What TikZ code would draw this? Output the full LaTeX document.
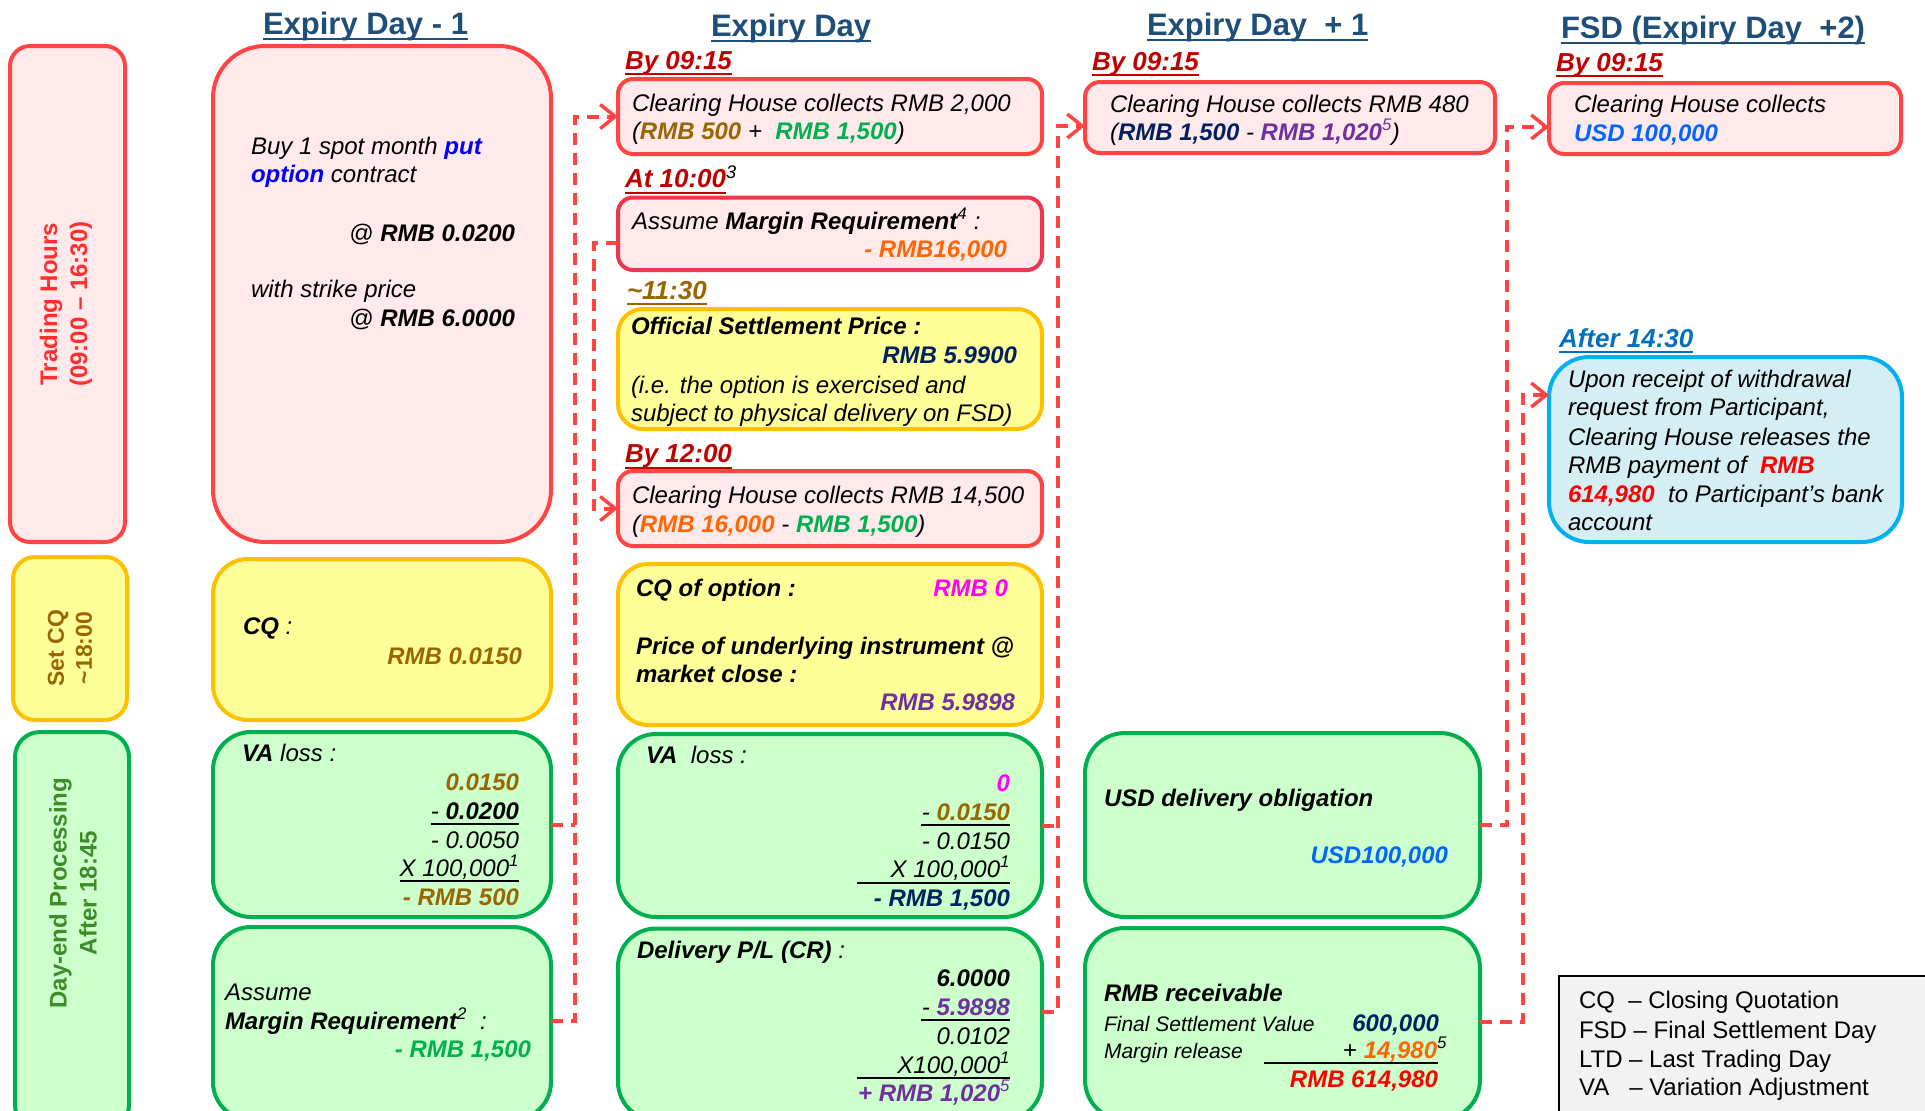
\documentclass[tikz,border=0pt]{standalone}
\usepackage{fontspec}
\setmainfont{Liberation Sans}
\usetikzlibrary{arrows.meta,fit}
\definecolor{bred}{RGB}{255,68,68}
\definecolor{pbord}{RGB}{235,56,80}
\definecolor{pinkf}{RGB}{255,233,235}
\definecolor{yelf}{RGB}{255,255,153}
\definecolor{yelb}{RGB}{255,192,0}
\definecolor{grnf}{RGB}{204,255,204}
\definecolor{grnb}{RGB}{0,176,80}
\definecolor{ttl}{RGB}{31,78,121}
\definecolor{dred}{RGB}{192,0,0}
\definecolor{brn}{RGB}{153,102,0}
\definecolor{navy}{RGB}{0,32,96}
\definecolor{purp}{RGB}{112,48,160}
\definecolor{orng}{RGB}{255,102,0}
\definecolor{mag}{RGB}{255,0,255}
\definecolor{usdb}{RGB}{0,102,255}
\definecolor{ablue}{RGB}{0,112,192}
\definecolor{cyanf}{RGB}{212,238,243}
\definecolor{cyanb}{RGB}{0,176,240}
\definecolor{dgrn}{RGB}{60,140,40}
\definecolor{legf}{RGB}{242,242,242}
\definecolor{pblue}{RGB}{0,0,255}
\definecolor{lred}{RGB}{255,45,45}
\definecolor{rred}{RGB}{255,0,0}
\newcommand\ulnode[2]{\draw[#2, line width=2pt] ([yshift=-5pt]#1.base west) -- ([yshift=-5pt]#1.base east);}
\newcommand\supn[1]{{\mdseries\textsuperscript{#1}}}
\begin{document}
\begin{tikzpicture}[x=1pt,y=-1pt,
  box/.style={inner sep=0pt, outer sep=0pt, line width=4pt},
  redbox/.style={box, draw=bred, fill=pinkf},
  yelbox/.style={box, draw=yelb, fill=yelf},
  grnbox/.style={box, draw=grnb, fill=grnf},
  t/.style={inner sep=0pt, outer sep=0pt, font=\fontsize{24}{28}\selectfont\itshape},
  ts/.style={inner sep=0pt, outer sep=0pt, font=\fontsize{21}{25}\selectfont\itshape},
  tn/.style={inner sep=0pt, outer sep=0pt, font=\fontsize{24}{28}\selectfont, anchor=base west},
  W/.style={anchor=base west},
  E/.style={anchor=base east},
  hd/.style={inner sep=0pt, outer sep=0pt, font=\fontsize{31}{36}\selectfont\bfseries, text=ttl, anchor=base west},
  tm/.style={inner sep=0pt, outer sep=0pt, font=\fontsize{26}{30}\selectfont\bfseries\itshape, anchor=base west},
  rowlab/.style={rotate=90, align=center, inner sep=0pt, font=\fontsize{24}{30}\selectfont\bfseries},
  conn/.style={draw=bred, line width=4pt, dash pattern=on 12pt off 8pt},
  arr/.style={-{Straight Barb[length=15pt,width=24pt,line width=3.5pt]}},
  ul/.style={draw=black, line width=2pt}
]
\useasboundingbox (0,0) rectangle (1925,1111);

% ---------- titles ----------
\node[hd] (h1) at (263,34) {Expiry Day - 1};
\node[hd] (h2) at (711,36) {Expiry Day};
\node[hd] (h3) at (1147,35) {Expiry Day\ \ + 1};
\node[hd] (h4) at (1561,38) {FSD (Expiry Day\ \ +2)};
\ulnode{h1}{ttl}
\ulnode{h2}{ttl}
\ulnode{h3}{ttl}
\ulnode{h4}{ttl}

% ---------- row labels ----------
\node[redbox, rounded corners=20pt, fit={(10,46)(125,542)}] (th) {};
\node[rowlab, text=lred] (thl) at (66,304) {Trading Hours\\(09:00 – 16:30)};
\node[yelbox, rounded corners=22pt, fit={(13,557)(127,720)}] (cq) {};
\node[rowlab, text=brn, font=\fontsize{23}{28}\selectfont\bfseries] (cql) at (70,648) {Set CQ\\\textasciitilde 18:00};
\node[grnbox, rounded corners=25pt, fit={(15,732)(129,1130)}] (de) {};
\node[rowlab, text=dgrn] (del) at (73,893) {Day-end Processing\\After 18:45};

% ---------- Expiry Day - 1 ----------
\node[redbox, rounded corners=52pt, fit={(213,46)(551,542)}] (b1) {};
\node[t,W] (d1a) at (251,154) {Buy 1 spot month {\bfseries\color{pblue}put}};
\node[t,W] (d1b) at (251,182) {{\bfseries\color{pblue}option} contract};
\node[t,E] (d1c) at (515,241) {@ {\bfseries RMB 0.0200}};
\node[t,W] (d1d) at (251,297) {with strike price};
\node[t,E] (d1e) at (515,326) {@ {\bfseries RMB 6.0000}};

\node[yelbox, rounded corners=35pt, fit={(213,559)(551,720)}] (b2) {};
\node[t,W] (d2a) at (243,634) {{\bfseries CQ} :};
\node[t,E] (d2b) at (522,664) {\bfseries\color{brn}RMB 0.0150};

\node[grnbox, rounded corners=38pt, fit={(213,732)(551,917)}] (b3) {};
\node[t,W] (d3a) at (242,761) {{\bfseries VA} loss :};
\node[t,E] (d3b) at (519,790) {\bfseries\color{brn}0.0150};
\node[t,E] (d3c) at (519,819) {- {\bfseries 0.0200}};
\draw[ul] (431,824) -- (519,824);
\node[t,E] (d3d) at (519,848) {- 0.0050};
\node[t,E] (d3e) at (519,876) {X 100,000\textsuperscript{1}};
\draw[ul] (400,881) -- (519,881);
\node[t,E] (d3f) at (519,905) {\bfseries\color{brn}- RMB 500};

\node[grnbox, rounded corners=38pt, fit={(213,927)(551,1120)}] (b4) {};
\node[t,W] (d4a) at (225,1000) {Assume};
\node[t,W] (d4b) at (225,1029) {{\bfseries Margin Requirement}\textsuperscript{2}\ \ :};
\node[t,E] (d4c) at (531,1057) {\bfseries\color{grnb}- RMB 1,500};

% ---------- Expiry Day ----------
\node[tm, text=dred] (k1) at (625,69) {By 09:15};
\ulnode{k1}{dred}
\node[redbox, rounded corners=15pt, fit={(618,79)(1042,154)}] (e1) {};
\node[t,W] (e1a) at (632,111) {Clearing House collects RMB 2,000};
\node[t,W] (e1b) at (632,139) {({\bfseries\color{brn}RMB 500} +\ \ {\bfseries\color{grnb}RMB 1,500})};

\node[tm, text=dred] (k2) at (625,187.5) {At 10:00{\color{black}\supn{3}}};
\draw[dred, line width=2pt] (625,193) -- (726,193);
\node[box, draw=pbord, fill=pinkf, rounded corners=15pt, fit={(618,197.5)(1042,270)}] (e2) {};
\node[t,W] (e2a) at (632,229) {Assume {\bfseries Margin Requirement}\textsuperscript{4} :};
\node[t,E] (e2b) at (1007,257) {\bfseries\color{orng}- RMB16,000};

\node[tm, text=brn] (k3) at (627,299) {\textasciitilde 11:30};
\ulnode{k3}{brn}
\node[yelbox, rounded corners=25pt, fit={(618,309)(1042,429)}] (e3) {};
\node[t,W] (e3a) at (631,334) {\bfseries Official Settlement Price :};
\node[t,E] (e3b) at (1017,363) {\bfseries\color{navy}RMB 5.9900};
\node[t,W] (e3c) at (631,393) {(i.e. the option is exercised and};
\node[t,W] (e3d) at (631,421) {subject to physical delivery on FSD)};

\node[tm, text=dred] (k4) at (625,462.5) {By 12:00};
\ulnode{k4}{dred}
\node[redbox, rounded corners=15pt, fit={(618,471)(1042,546)}] (e4) {};
\node[t,W] (e4a) at (632,503.5) {Clearing House collects RMB 14,500};
\node[t,W] (e4b) at (632,532) {({\bfseries\color{orng}RMB 16,000} - {\bfseries\color{grnb}RMB 1,500})};

\node[yelbox, rounded corners=30pt, fit={(618,564)(1042,725)}] (e5) {};
\node[t,W] (e5a) at (636,596) {\bfseries CQ of option :};
\node[t,E] (e5b) at (1008,596) {\bfseries\color{mag}RMB 0};
\node[t,W] (e5c) at (636,654) {\bfseries Price of underlying instrument @};
\node[t,W] (e5d) at (636,682) {\bfseries market close :};
\node[t,E] (e5e) at (1015,710) {\bfseries\color{purp}RMB 5.9898};

\node[grnbox, rounded corners=38pt, fit={(618,734)(1042,917)}] (e6) {};
\node[t,W] (e6a) at (646,763) {{\bfseries VA}\ \ loss :};
\node[t,E] (e6b) at (1010,791.5) {\bfseries\color{mag}0};
\node[t,E] (e6c) at (1010,820) {- {\bfseries\color{brn}0.0150}};
\draw[ul] (921,825) -- (1010,825);
\node[t,E] (e6d) at (1010,849) {- 0.0150};
\node[t,E] (e6e) at (1010,877) {X 100,000\textsuperscript{1}};
\draw[ul] (857,883) -- (1010,883);
\node[t,E] (e6f) at (1010,906) {\bfseries\color{navy}- RMB 1,500};

\node[grnbox, rounded corners=38pt, fit={(618,928.5)(1042,1120)}] (e7) {};
\node[t,W] (e7a) at (637,958.6) {{\bfseries Delivery P/L (CR)} :};
\node[t,E] (e7b) at (1010,986.5) {\bfseries 6.0000};
\node[t,E] (e7c) at (1010,1015) {- {\bfseries\color{purp}5.9898}};
\draw[ul] (921,1020) -- (1010,1020);
\node[t,E] (e7d) at (1010,1044) {0.0102};
\node[t,E] (e7e) at (1010,1073) {X100,000\textsuperscript{1}};
\draw[ul] (857,1078) -- (1010,1078);
\node[t,E] (e7f) at (1010,1101) {\color{purp}{\bfseries + RMB 1,020}\textsuperscript{5}};

% ---------- Expiry Day + 1 ----------
\node[tm, text=dred] (k5) at (1092,70) {By 09:15};
\ulnode{k5}{dred}
\node[redbox, rounded corners=15pt, fit={(1085,82)(1495,153)}] (p1) {};
\node[t,W] (p1a) at (1110,112) {Clearing House collects RMB 480};
\node[t,W] (p1b) at (1110,140) {({\bfseries\color{navy}RMB 1,500} - {\color{purp}{\bfseries RMB 1,020}\textsuperscript{5}})};

\node[grnbox, rounded corners=40pt, fit={(1085,733)(1480,917)}] (p2) {};
\node[t,W] (p2a) at (1104,806) {\bfseries USD delivery obligation};
\node[t,E] (p2b) at (1448,863) {\bfseries\color{usdb}USD100,000};

\node[grnbox, rounded corners=40pt, fit={(1085,928)(1480,1120)}] (p3) {};
\node[t,W] (p3a) at (1104,1001) {\bfseries RMB receivable};
\node[ts,W] (p3b) at (1104,1031) {Final Settlement Value};
\node[t,E] (p3c) at (1439,1031) {\bfseries\color{navy}600,000};
\node[ts,W] (p3d) at (1104,1058) {Margin release};
\node[t,E] (p3e) at (1447,1058) {{\upshape +} {\bfseries\color{orng}14,980}\textsuperscript{5}};
\draw[ul] (1264,1063) -- (1438,1063);
\node[t,E] (p3f) at (1438,1087) {\bfseries\color{rred}RMB 614,980};

% ---------- FSD ----------
\node[tm, text=dred] (k6) at (1556,71) {By 09:15};
\ulnode{k6}{dred}
\node[redbox, rounded corners=15pt, fit={(1549,83)(1901,154)}] (f1) {};
\node[t,W] (f1a) at (1574,112.5) {Clearing House collects};
\node[t,W] (f1b) at (1574,141) {\bfseries\color{usdb}USD 100,000};

\node[tm, text=ablue] (k7) at (1559,347) {After 14:30};
\ulnode{k7}{ablue}
\node[box, draw=cyanb, fill=cyanf, rounded corners=40pt, fit={(1549,357)(1902,542)}] (f2) {};
\node[t,W] (f2a) at (1568,387) {Upon receipt of withdrawal};
\node[t,W] (f2b) at (1568,415) {request from Participant,};
\node[t,W] (f2c) at (1568,445) {Clearing House releases the};
\node[t,W] (f2d) at (1568,473) {RMB payment of\ \ {\bfseries\color{rred}RMB}};
\node[t,W] (f2e) at (1568,502) {{\bfseries\color{rred}614,980}\ \ to Participant’s bank};
\node[t,W] (f2f) at (1568,530) {account};

% ---------- legend ----------
\node[inner sep=0pt, outer sep=0pt, draw=black, line width=2.5pt, fill=legf, fit={(1559,976)(1945,1130)}] (leg) {};
\node[tn] (l1) at (1579,1008) {CQ\ \ – Closing Quotation};
\node[tn] (l2) at (1579,1038) {FSD – Final Settlement Day};
\node[tn] (l3) at (1579,1067) {LTD – Last Trading Day};
\node[tn] (l4) at (1579,1095) {VA\ \ \ – Variation Adjustment};

% ---------- connectors ----------
\coordinate (s1) at (575,500);
\coordinate (c1021) at (0,1021);
\draw[conn, arr] (b4.east |- c1021) -- (s1 |- c1021) -- (s1 |- e1.west) -- (e1.west);
\draw[conn] (b3.east) -- (s1 |- b3.east);

\coordinate (s2) at (594,350);
\draw[conn, arr] ([yshift=-9pt]e2.west) -| (s2) |- (e4.west);

\coordinate (s3) at (1058,500);
\coordinate (c1012) at (0,1012);
\coordinate (c126) at (0,126);
\draw[conn, arr] (e7.east |- c1012) -- (s3 |- c1012) -- (s3 |- c126) -- (p1.west |- c126);
\draw[conn] (e6.east) -- (s3 |- e6.east);

\coordinate (s4) at (1507,500);
\coordinate (c127) at (0,127);
\draw[conn, arr] (p2.east) -- (s4 |- p2.east) -- (s4 |- c127) -- (f1.west |- c127);

\coordinate (s5) at (1523,700);
\coordinate (c1022) at (0,1022);
\coordinate (c395) at (0,395);
\draw[conn, arr] (p3.east |- c1022) -- (s5 |- c1022) -- (s5 |- c395) -- (f2.west |- c395);
\end{tikzpicture}
\end{document}
